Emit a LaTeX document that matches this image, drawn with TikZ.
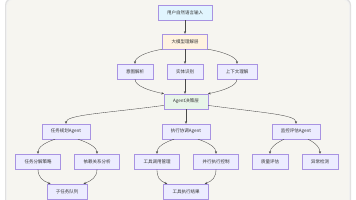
\documentclass[tikz,border=0pt]{standalone}
\usepackage{fontspec}
\newfontfamily\cjk{Noto Sans CJK SC}
\definecolor{canvasbg}{HTML}{F6F5F0}
\definecolor{nodelav}{HTML}{ECECFF}
\definecolor{nodeline}{HTML}{A893E2}
\definecolor{inblue}{HTML}{E1F5FE}
\definecolor{llmorange}{HTML}{FFF3E0}
\definecolor{agentgreen}{HTML}{E8F5E9}
\definecolor{edgegray}{HTML}{4A4A4A}
\definecolor{textgray}{HTML}{333333}
\usetikzlibrary{arrows.meta}

\begin{document}
\begin{tikzpicture}[x=1pt, y=-1pt,
  nbox/.style={draw=nodeline, fill=nodelav, line width=0.45pt, minimum height=15pt, inner xsep=9pt, inner ysep=0pt, font=\cjk\fontsize{4.5}{5}\selectfont, text=textgray},
  edge/.style={draw=edgegray, line width=0.35pt, -{Stealth[length=2.6pt,width=2.2pt]}}
]
  \useasboundingbox (0,0) rectangle (356,200);
  % page and canvas
  \fill[white] (0,0) rectangle (356,200);
  \fill[black!12, rounded corners=7pt] (5,-2) rectangle (351,220);
  \fill[black!6, rounded corners=7pt] (6,-1) rectangle (350,220);
  \fill[canvasbg, rounded corners=6pt] (7,0) rectangle (349,220);

  % nodes
  \node[nbox, fill=inblue] (input) at (185,12.5) {用户自然语言输入};
  \node[nbox, fill=llmorange] (llm) at (185,41.5) {大模型理解层};

  \node[nbox] (intent) at (135,71.5) {意图解析};
  \node[nbox] (entity) at (185,71.5) {实体识别};
  \node[nbox] (context) at (237,71.5) {上下文理解};

  \node[nbox, fill=agentgreen] (agent) at (186,101.5) {Agent决策层};

  \node[nbox] (plan) at (66,131.5) {任务规划Agent};
  \node[nbox] (exec) at (186,131.5) {执行协调Agent};
  \node[nbox] (monitor) at (296,131.5) {监控评估Agent};

  \node[nbox] (split) at (38,161.5) {任务分解策略};
  \node[nbox] (dep) at (97,161.5) {依赖关系分析};
  \node[nbox] (tool) at (157,161.5) {工具调用管理};
  \node[nbox] (para) at (216,161.5) {并行执行控制};
  \node[nbox] (quality) at (270,161.5) {质量评估};
  \node[nbox] (anomaly) at (320,161.5) {异常检测};

  \node[nbox] (queue) at (67,191.5) {子任务队列};
  \node[nbox] (result) at (186,191.5) {工具执行结果};

  % connectors
  \draw[edge] (input) -- (llm);
  \draw[edge] (llm.south west) .. controls +(-18,3) and +(0,-6) .. (intent.north);
  \draw[edge] (llm) -- (entity);
  \draw[edge] (llm.south east) .. controls +(18,3) and +(0,-6) .. (context.north);

  \draw[edge] (intent.south) .. controls +(0,7) and +(-14,-3) .. (agent.north west);
  \draw[edge] (entity) -- (entity |- agent.north);
  \draw[edge] (context.south) .. controls +(0,7) and +(14,-3) .. (agent.north east);

  \draw[edge] (agent.190) .. controls +(-60,8) and +(0,-9) .. (plan.north);
  \draw[edge] (agent) -- (exec);
  \draw[edge] (agent.-10) .. controls +(60,8) and +(0,-9) .. (monitor.north);

  \draw[edge] ([xshift=-11pt]plan.south) .. controls +(-12,4) and +(0,-6) .. (split.north);
  \draw[edge] ([xshift=12pt]plan.south) .. controls +(12,4) and +(0,-6) .. (dep.north);
  \draw[edge] ([xshift=-12pt]exec.south) .. controls +(-12,4) and +(0,-6) .. (tool.north);
  \draw[edge] ([xshift=12pt]exec.south) .. controls +(12,4) and +(0,-6) .. (para.north);
  \draw[edge] ([xshift=-12pt]monitor.south) .. controls +(-8,4) and +(0,-6) .. (quality.north);
  \draw[edge] ([xshift=12pt]monitor.south) .. controls +(8,4) and +(0,-6) .. (anomaly.north);

  \draw[edge] (split.south) .. controls +(0,8) and +(-8,-3) .. ([xshift=4pt]queue.north west);
  \draw[edge] (dep.south) .. controls +(0,8) and +(8,-3) .. ([xshift=-4pt]queue.north east);
  \draw[edge] (tool.south) .. controls +(0,8) and +(-8,-3) .. ([xshift=4pt]result.north west);
  \draw[edge] (para.south) .. controls +(0,8) and +(8,-3) .. ([xshift=-4pt]result.north east);
\end{tikzpicture}
\end{document}
